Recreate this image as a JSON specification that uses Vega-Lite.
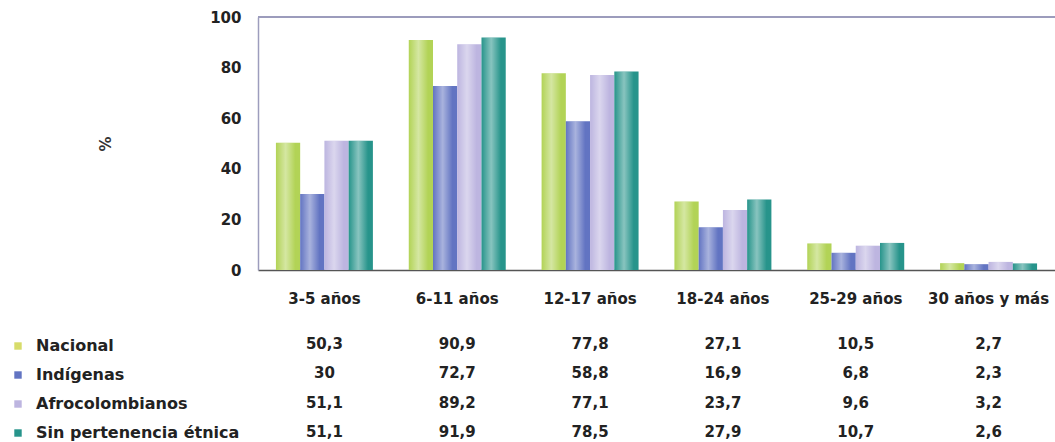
{
  "$schema": "https://vega.github.io/schema/vega-lite/v6.json",
  "padding": {"left": 10, "top": 10, "right": 0, "bottom": 0},
  "background": "white",
  "config": {
    "font": "DejaVu Sans",
    "locale": {"number": {"decimal": ",", "thousands": ".", "grouping": [3], "currency": ["", ""]}},
    "view": {"stroke": null}
  },
  "datasets": {
    "d": [
      {"grupo": "3-5 años", "serie": "Nacional", "valor": 50.3},
      {"grupo": "6-11 años", "serie": "Nacional", "valor": 90.9},
      {"grupo": "12-17 años", "serie": "Nacional", "valor": 77.8},
      {"grupo": "18-24 años", "serie": "Nacional", "valor": 27.1},
      {"grupo": "25-29 años", "serie": "Nacional", "valor": 10.5},
      {"grupo": "30 años y más", "serie": "Nacional", "valor": 2.7},
      {"grupo": "3-5 años", "serie": "Indígenas", "valor": 30},
      {"grupo": "6-11 años", "serie": "Indígenas", "valor": 72.7},
      {"grupo": "12-17 años", "serie": "Indígenas", "valor": 58.8},
      {"grupo": "18-24 años", "serie": "Indígenas", "valor": 16.9},
      {"grupo": "25-29 años", "serie": "Indígenas", "valor": 6.8},
      {"grupo": "30 años y más", "serie": "Indígenas", "valor": 2.3},
      {"grupo": "3-5 años", "serie": "Afrocolombianos", "valor": 51.1},
      {"grupo": "6-11 años", "serie": "Afrocolombianos", "valor": 89.2},
      {"grupo": "12-17 años", "serie": "Afrocolombianos", "valor": 77.1},
      {"grupo": "18-24 años", "serie": "Afrocolombianos", "valor": 23.7},
      {"grupo": "25-29 años", "serie": "Afrocolombianos", "valor": 9.6},
      {"grupo": "30 años y más", "serie": "Afrocolombianos", "valor": 3.2},
      {"grupo": "3-5 años", "serie": "Sin pertenencia étnica", "valor": 51.1},
      {"grupo": "6-11 años", "serie": "Sin pertenencia étnica", "valor": 91.9},
      {"grupo": "12-17 años", "serie": "Sin pertenencia étnica", "valor": 78.5},
      {"grupo": "18-24 años", "serie": "Sin pertenencia étnica", "valor": 27.9},
      {"grupo": "25-29 años", "serie": "Sin pertenencia étnica", "valor": 10.7},
      {"grupo": "30 años y más", "serie": "Sin pertenencia étnica", "valor": 2.6}
    ]
  },
  "spacing": 30,
  "resolve": {"scale": {"color": "independent", "x": "independent", "y": "independent"}, "legend": {"color": "independent"}},
  "vconcat": [
    {
      "width": 797,
      "height": 253,
      "data": {"name": "d"},
      "encoding": {
        "x": {
          "field": "grupo", "type": "nominal", "sort": null,
          "scale": {"paddingInner": 0.27, "paddingOuter": 0.135},
          "axis": {"title": null, "labelAngle": 0, "ticks": false, "domainColor": "#555555", "domainWidth": 1.5,
                   "labelFont": "DejaVu Sans", "labelFontWeight": "bold", "labelFontSize": 15, "labelColor": "#222222", "labelPadding": 21}
        },
        "y": {
          "field": "valor", "type": "quantitative",
          "scale": {"domain": [0, 100], "nice": false},
          "axis": {"title": "%", "values": [0, 20, 40, 60, 80, 100], "grid": false, "ticks": false,
                   "domainColor": "#9d9dbd", "domainWidth": 1.5,
                   "labelFont": "DejaVu Sans", "labelFontWeight": "bold", "labelFontSize": 15, "labelColor": "#222222", "labelPadding": 17,
                   "titleFont": "DejaVu Sans", "titleFontSize": 15, "titleFontWeight": "bold", "titleColor": "#333333", "titlePadding": 96}
        },
        "xOffset": {"field": "serie", "type": "nominal", "sort": ["Nacional", "Indígenas", "Afrocolombianos", "Sin pertenencia étnica"], "scale": {"paddingInner": 0, "paddingOuter": 0}}
      },
      "layer": [
        {
          "mark": {"type": "bar"},
          "encoding": {
            "color": {
              "field": "serie", "type": "nominal", "legend": null,
              "scale": {"domain": ["Nacional", "Indígenas", "Afrocolombianos", "Sin pertenencia étnica"],
                        "range": ["#b2d356", "#6274c2", "#bdb5e0", "#27948b"]}
            }
          }
        },
        {
          "mark": {"type": "bar", "color": {"gradient": "linear", "x1": 0, "x2": 1, "y1": 0, "y2": 0,
                   "stops": [{"offset": 0, "color": "rgba(255,255,255,0)"}, {"offset": 0.4, "color": "rgba(255,255,255,0.45)"}, {"offset": 0.8, "color": "rgba(255,255,255,0)"}, {"offset": 1, "color": "rgba(255,255,255,0)"}]}}
        },
        {
          "mark": {"type": "rule", "color": "#9d9dbd", "strokeWidth": 1.5},
          "encoding": {"y": {"datum": 100}, "x": null, "xOffset": null}
        }
      ]
    },
    {
      "width": 797,
      "height": 100,
      "data": {"name": "d"},
      "encoding": {
        "x": {"field": "grupo", "type": "nominal", "sort": null, "scale": {"paddingInner": 0.27, "paddingOuter": 0.135}, "axis": null},
        "y": {"field": "serie", "type": "ordinal", "sort": ["Nacional", "Indígenas", "Afrocolombianos", "Sin pertenencia étnica"],
              "scale": {"type": "point", "padding": 0.2}, "axis": null}
      },
      "layer": [
        {
          "mark": {"type": "point", "shape": "square", "filled": true, "opacity": 0},
          "encoding": {
            "color": {
              "field": "serie", "type": "nominal",
              "scale": {"domain": ["Nacional", "Indígenas", "Afrocolombianos", "Sin pertenencia étnica"],
                        "range": ["#d7dc6a", "#6274c2", "#bdb5e0", "#27948b"]},
              "legend": {"title": null, "orient": "left", "offset": 18, "symbolType": "square", "symbolSize": 55, "symbolOpacity": 1,
                         "symbolStrokeWidth": 0, "labelFont": "DejaVu Sans", "labelFontWeight": "bold", "labelFontSize": 16,
                         "labelColor": "#222222", "labelOffset": 10, "rowPadding": 13, "labelLimit": 300}
            }
          }
        },
        {
          "mark": {"type": "text", "font": "DejaVu Sans", "fontWeight": "bold", "fontSize": 15, "color": "#222222", "baseline": "middle"},
          "encoding": {"text": {"field": "valor", "type": "quantitative", "format": ".3~r"}}
        }
      ]
    }
  ]
}
